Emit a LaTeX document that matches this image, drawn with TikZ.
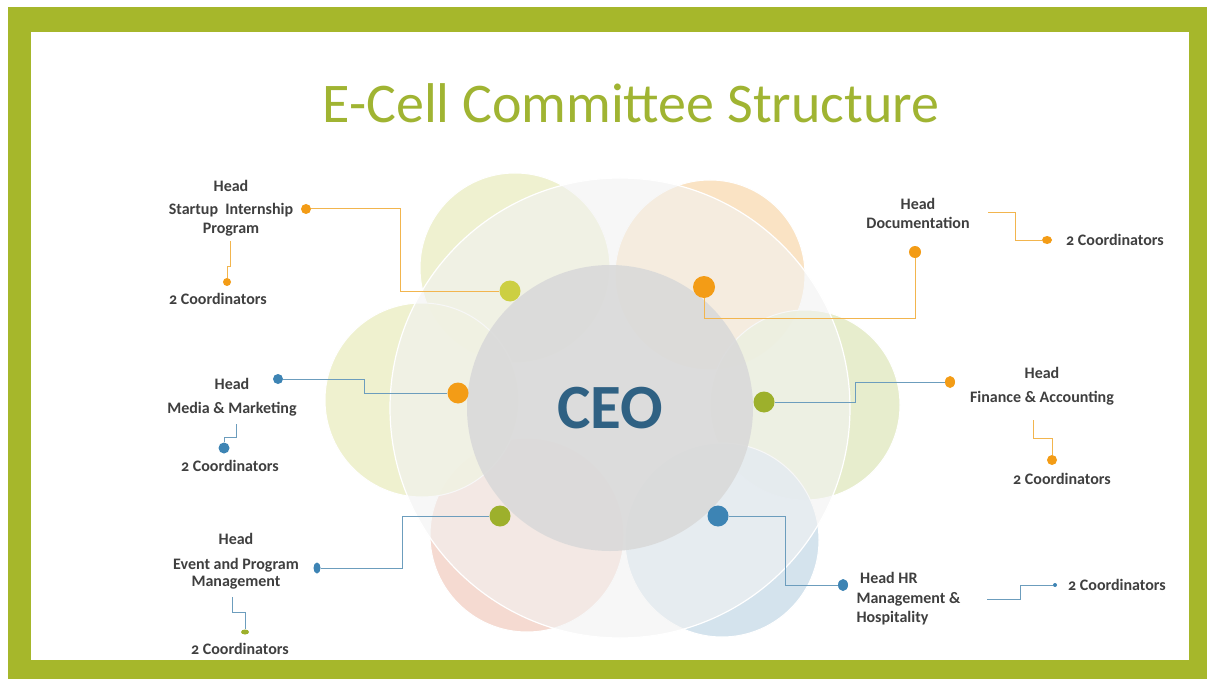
\documentclass[tikz,border=0pt]{standalone}
\usepackage{fontspec}
\setmainfont{Carlito}
\newfontfamily\labelfont[Numbers=OldStyle]{Carlito}
\usetikzlibrary{shapes.geometric}
\definecolor{framecol}{HTML}{A6B72B}
\definecolor{titlecol}{HTML}{A0B432}
\definecolor{textcol}{HTML}{3F3F3F}
\definecolor{ceocol}{HTML}{2F6183}
\definecolor{orcol}{HTML}{F39C16}
\definecolor{orlinecol}{HTML}{F2B54E}
\definecolor{blcol}{HTML}{3D84B4}
\definecolor{bllinecol}{HTML}{6C9DBD}
\definecolor{grcol}{HTML}{9DB02C}
\definecolor{ylcol}{HTML}{CCCF42}

\begin{document}
\begin{tikzpicture}[x=1pt,y=-1pt,
    label/.style={align=center,text=textcol,font=\labelfont\fontsize{16}{19}\selectfont\bfseries},
    dot/.style={circle,inner sep=0pt,minimum size=#1},
    orline/.style={draw=orlinecol,line width=1pt},
    blline/.style={draw=bllinecol,line width=1pt}]
\useasboundingbox (0,0) rectangle (1207,679);
\fill[framecol] (8,7) rectangle (1207,679);
\fill[white] (31,32) rectangle (1189,660);
\node[text=titlecol,font=\fontsize{56}{60}\selectfont] (title) at (631,103) {E-Cell Committee Structure};

\begin{scope}[draw=white,line width=1pt,fill opacity=.9]
\filldraw[fill={rgb,255:red,238;green,240;blue,203}] (515,268) circle[radius=95];
\filldraw[fill={rgb,255:red,250;green,225;blue,190}] (710,275) circle[radius=95];
\filldraw[fill={rgb,255:red,229;green,236;blue,200}] (805,405) circle[radius=95];
\filldraw[fill={rgb,255:red,208;green,224;blue,236}] (722,540) circle[radius=97];
\filldraw[fill={rgb,255:red,245;green,214;blue,205}] (527,535) circle[radius=97];
\filldraw[fill={rgb,255:red,238;green,240;blue,202}] (422,400) circle[radius=97];
\end{scope}
\filldraw[draw=white,line width=1.2pt,fill={rgb,255:red,242;green,242;blue,242},fill opacity=.6] (620,408) circle[radius=230];
\node[circle,fill={rgb,255:red,217;green,217;blue,217},fill opacity=.88,minimum size=286pt,
    text=ceocol,text opacity=1,font=\fontsize{63}{63}\selectfont\bfseries] (ceo) at (610,408) {CEO};

\begin{scope}[every node/.style={dot=21pt}]
\node[fill=ylcol] (dTL) at (510,291) {};
\node[fill=orcol,minimum size=22pt] (dTR) at (704,287) {};
\node[fill=orcol] (dL) at (458,393) {};
\node[fill=grcol] (dR) at (764,402) {};
\node[fill=grcol] (dBL) at (500,516) {};
\node[fill=blcol] (dBR) at (718,516) {};
\end{scope}

\begin{scope}[every node/.style={dot=10pt}]
\node[fill=orcol] (sipH) at (306,209) {};
\node[fill=orcol,minimum size=8pt] (sipC) at (227,282) {};
\node[fill=orcol,minimum size=12pt] (docH) at (915,252) {};
\node[fill=orcol,ellipse,minimum width=10pt,minimum height=8pt] (docC) at (1047,240) {};
\node[fill=blcol] (medH) at (278,379) {};
\node[fill=blcol,minimum size=11pt] (medC) at (224,448) {};
\node[fill=orcol,ellipse,minimum width=10pt,minimum height=12pt] (finH) at (950,382) {};
\node[fill=orcol] (finC) at (1052,460) {};
\node[fill=blcol,ellipse,minimum width=7pt,minimum height=11pt] (evH) at (317,568) {};
\node[fill=grcol,ellipse,minimum width=8pt,minimum height=5pt] (evC) at (245,632) {};
\node[fill=blcol,ellipse,minimum width=10pt,minimum height=12pt] (hrH) at (843,585) {};
\node[fill=blcol,minimum size=4pt] (hrC) at (1055,585) {};
\end{scope}

\begin{scope}[every node/.style={label}]
\node (sipL) at (231,208) {Head\\[4pt]Startup\ \ Internship\\Program};
\node (sipN) at (218,299) {2 Coordinators};
\node (docL) at (918,213) {Head\\Documentation};
\node (docN) at (1115,240) {2 Coordinators};
\node (medL) at (232,397) {Head\\[5pt]Media \& Marketing};
\node (medN) at (230,466) {2 Coordinators};
\node (finL) at (1042,386) {Head\\[5pt]Finance \& Accounting};
\node (finN) at (1062,479) {2 Coordinators};
\node[font=\labelfont\fontsize{16}{17}\selectfont\bfseries] (evL) at (236,561) {Head\\[8pt]Event and Program\\Management};
\node (evN) at (240,649) {2 Coordinators};
\node[align=left,anchor=west,font=\labelfont\fontsize{16}{19.5}\selectfont\bfseries] (hrL) at (853,599) {\ Head HR\\Management \&\\Hospitality};
\node (hrN) at (1117,585) {2 Coordinators};
\end{scope}

\coordinate (sipT) at (230,241);
\coordinate (docT) at (988,213);
\coordinate (medT) at (236,424);
\coordinate (finT) at (1033,420);
\coordinate (evT) at (232,597);
\coordinate (hrT) at (987,599);

\draw[orline] (sipH) -- (400,209) |- (dTL);
\draw[orline] (sipT) |- (227,266) -- (sipC);
\draw[orline] (dTR) |- (915,318) -- (docH);
\draw[orline] (docT) -| (1015,240) -- (docC);
\draw[blline] (medH) -- (364,379) |- (dL);
\draw[blline] (medT) |- (224,437) -- (medC);
\draw[blline] (dR) -| (855,382) -- (finH);
\draw[orline] (finT) |- (1052,438) -- (finC);
\draw[blline] (dBL) -| (402,568) -- (evH);
\draw[blline] (evT) |- (245,612) -- (evC);
\draw[blline] (dBR) -| (785,585) -- (hrH);
\draw[blline] (hrT) -| (1020,585) -- (hrC);
\end{tikzpicture}
\end{document}
